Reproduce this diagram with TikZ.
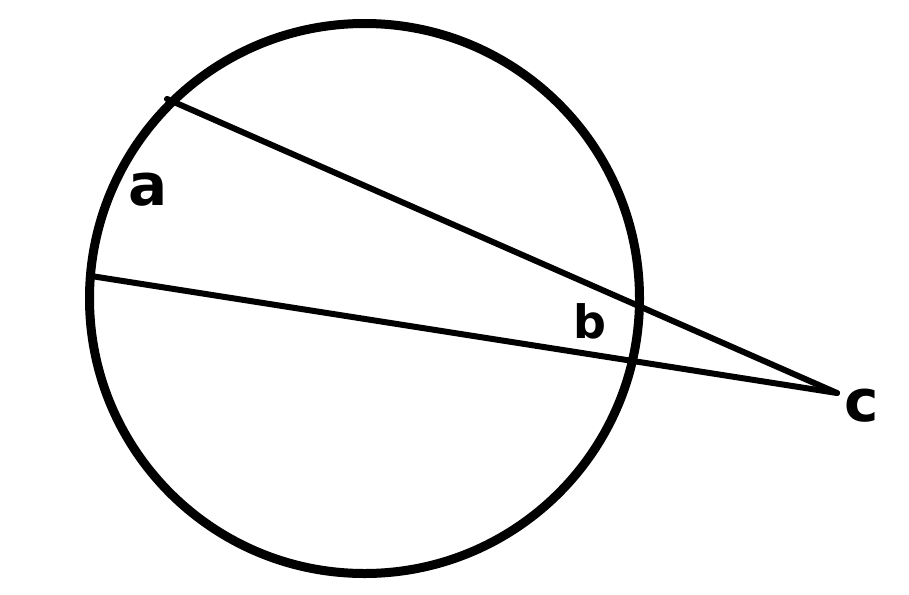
\documentclass[tikz,border=0pt]{standalone}
\usepackage{fontspec}
\setmainfont{DejaVu Sans}
\begin{document}
\begin{tikzpicture}[x=1pt,y=-1pt,
  rim/.style={line width=9pt},
  seg/.style={line width=6pt,line cap=round},
  lbl/.style={inner sep=0pt,font=\bfseries\fontsize{58}{58}\selectfont}]
\useasboundingbox (0,0) rectangle (909,594);
\coordinate (O) at (364.5,298.5);
\draw[rim] (O) circle[radius=275];
\coordinate (P) at (167,99);
\coordinate (Q) at (91,276);
\coordinate (C) at (837,393);
\draw[seg] (P) -- (C);
\draw[seg] (Q) -- (C);
\node[lbl] (a) at (148,190) {a};
\node[lbl,font=\bfseries\fontsize{46}{46}\selectfont] (b) at (590,321) {b};
\node[lbl] (c) at (862,406) {c};
\end{tikzpicture}
\end{document}
